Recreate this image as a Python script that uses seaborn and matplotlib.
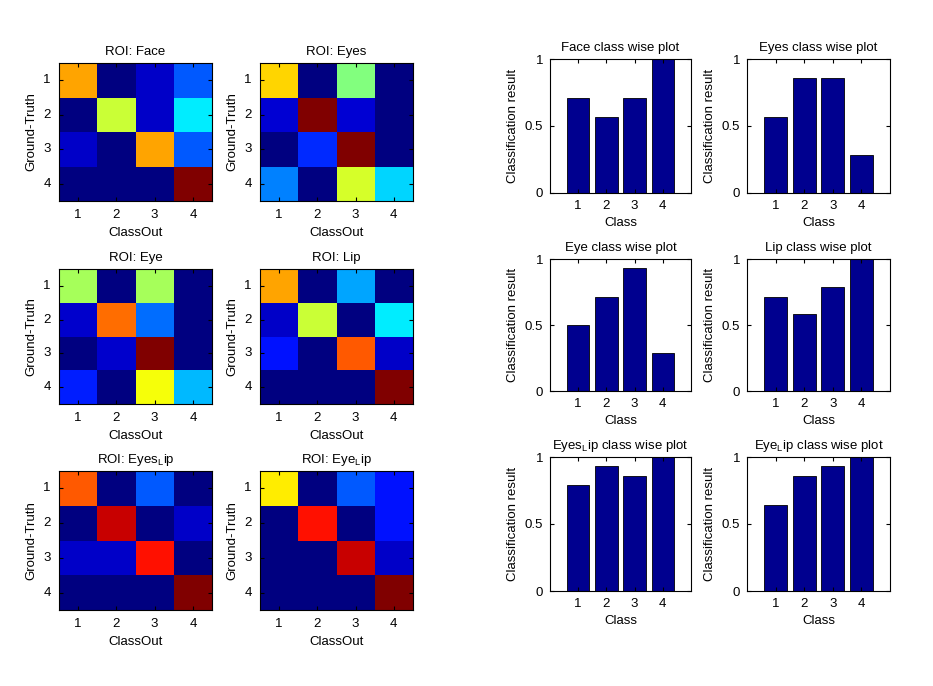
import numpy as np
import pandas as pd
import matplotlib
matplotlib.use('Agg')
import matplotlib.pyplot as plt
from matplotlib.colors import LinearSegmentedColormap
import seaborn as sns

plt.rcParams['font.family'] = ['Liberation Sans', 'DejaVu Sans']
plt.rcParams['font.size'] = 9.5
plt.rcParams['mathtext.fontset'] = 'custom'
plt.rcParams['mathtext.rm'] = 'Liberation Sans'
plt.rcParams['mathtext.it'] = 'Liberation Sans:italic'

# confusion matrices (rows = ground truth, cols = class out)
face_cm = [[10, 0, 1, 3], [0, 8, 1, 5], [1, 0, 10, 3], [0, 0, 0, 14]]
eyes_cm = [[8, 0, 6, 0], [1, 12, 1, 0], [0, 2, 12, 0], [3, 0, 7, 4]]
eye_cm = [[7, 0, 7, 0], [1, 10, 3, 0], [0, 1, 13, 0], [2, 0, 8, 4]]
lip_cm = [[10, 0, 4, 0], [1, 8, 0, 5], [2, 0, 11, 1], [0, 0, 0, 14]]
eyes_lip_cm = [[11, 0, 3, 0], [0, 13, 0, 1], [1, 1, 12, 0], [0, 0, 0, 14]]
eye_lip_cm = [[9, 0, 3, 2], [0, 12, 0, 2], [0, 0, 13, 1], [0, 0, 0, 14]]

# class wise classification result
classes = [1, 2, 3, 4]
face_res = [0.71, 0.57, 0.71, 1.0]
eyes_res = [0.57, 0.86, 0.86, 0.28]
eye_res = [0.50, 0.71, 0.93, 0.29]
lip_res = [0.71, 0.58, 0.79, 1.0]
eyes_lip_res = [0.79, 0.93, 0.86, 1.0]
eye_lip_res = [0.64, 0.86, 0.93, 1.0]

cm_titles = ['ROI: Face', 'ROI: Eyes', 'ROI: Eye', 'ROI: Lip',
             r'ROI: Eyes$_\mathrm{L}$ip', r'ROI: Eye$_\mathrm{L}$ip']
bar_titles = ['Face class wise plot', 'Eyes class wise plot',
              'Eye class wise plot', 'Lip class wise plot',
              r'Eyes$_\mathrm{L}$ip class wise plot',
              r'Eye$_\mathrm{L}$ip class wise plot']
cms = [face_cm, eyes_cm, eye_cm, lip_cm, eyes_lip_cm, eye_lip_cm]
results = [face_res, eyes_res, eye_res, lip_res, eyes_lip_res, eye_lip_res]

# matlab style jet
matlab_jet = LinearSegmentedColormap.from_list('matlab_jet', [
    (0.0, (0, 0, 0.5)), (0.125, (0, 0, 1)), (0.375, (0, 1, 1)),
    (0.625, (1, 1, 0)), (0.875, (1, 0, 0)), (1.0, (0.5, 0, 0))])

W, H = 933, 686
fig = plt.figure(figsize=(W / 100, H / 100), dpi=100)


def box(x0, y0, x1, y1):
    return [x0 / W, 1 - y1 / H, (x1 - x0) / W, (y1 - y0) / H]


hm_cols = [(59, 212), (260, 413)]
hm_rows = [(63, 201), (269, 404), (471, 610)]
bar_cols = [(550, 691), (747, 890)]
bar_rows = [(59, 193), (259, 391), (457, 591)]

for i in range(6):
    r, c = divmod(i, 2)
    # confusion matrix
    ax = fig.add_axes(box(hm_cols[c][0], hm_rows[r][0], hm_cols[c][1], hm_rows[r][1]))
    sns.heatmap(np.array(cms[i]), cmap=matlab_jet, cbar=False, ax=ax,
                xticklabels=classes, yticklabels=classes)
    for s in ax.spines.values():
        s.set_visible(True)
        s.set_linewidth(0.8)
    ax.tick_params(direction='in', length=3, top=True, right=True, pad=6)
    ax.set_yticklabels(classes, rotation=0)
    ax.set_xticklabels(classes, rotation=0)
    ax.set_title(cm_titles[i], fontsize=9.5)
    ax.set_xlabel('ClassOut')
    ax.set_ylabel('Ground-Truth')

    # class wise bar plot
    ax = fig.add_axes(box(bar_cols[c][0], bar_rows[r][0], bar_cols[c][1], bar_rows[r][1]))
    df = pd.DataFrame({'Class': classes, 'result': results[i]})
    sns.barplot(data=df, x='Class', y='result', native_scale=True, width=0.8,
                color='#00008F', edgecolor='black', linewidth=0.6,
                saturation=1, errorbar=None, ax=ax)
    ax.set_xlim(0, 5)
    ax.set_ylim(0, 1)
    ax.set_xticks(classes)
    ax.set_yticks([0, 0.5, 1])
    ax.set_yticklabels(['0', '0.5', '1'])
    for s in ax.spines.values():
        s.set_linewidth(0.8)
    ax.tick_params(direction='in', length=3, top=True, right=True, pad=5)
    ax.set_title(bar_titles[i], fontsize=9.5)
    ax.set_xlabel('Class')
    ax.set_ylabel('Classification result')

fig.savefig('out.png', dpi=100)
